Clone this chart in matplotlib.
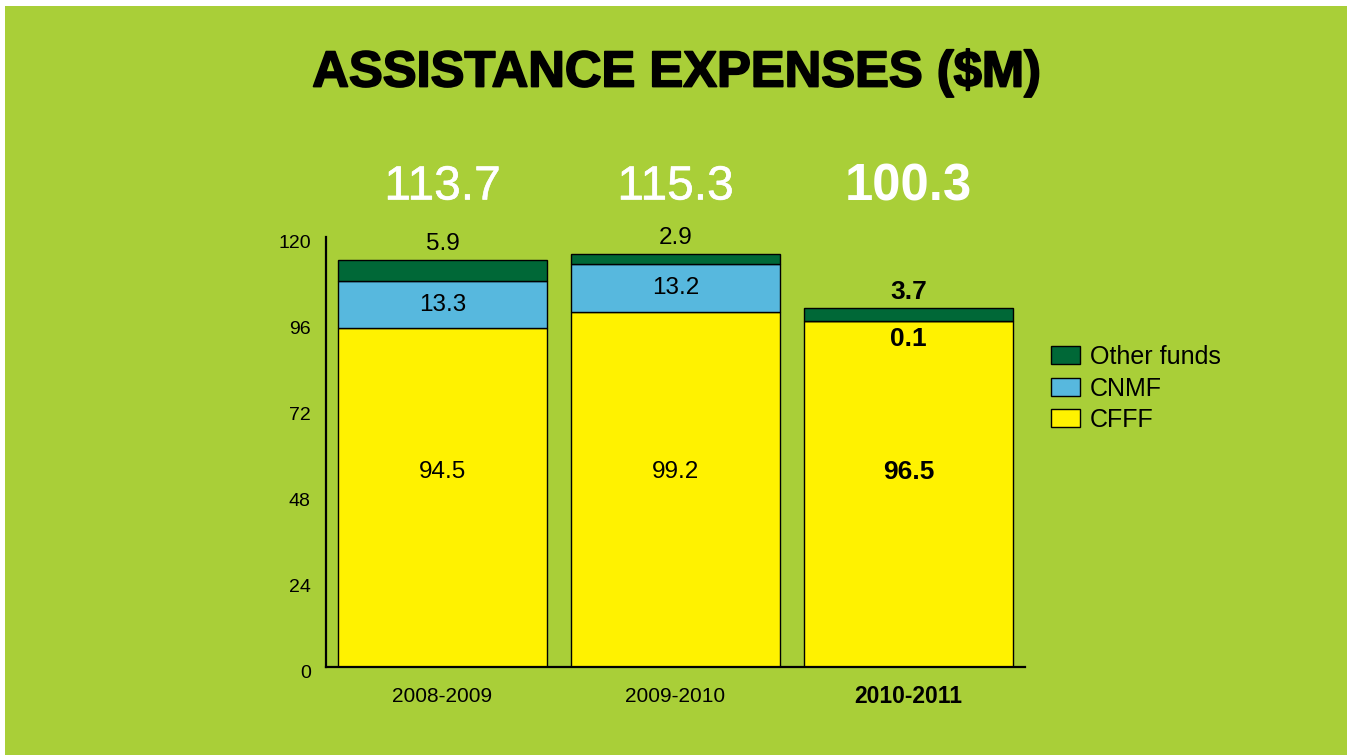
import matplotlib
matplotlib.use("Agg")
import matplotlib.pyplot as plt
from matplotlib.patches import Rectangle, Patch
from matplotlib.transforms import ScaledTranslation
import matplotlib.patheffects as pe

plt.rcParams['font.family'] = ['Liberation Sans', 'DejaVu Sans']

# Data ($M)
years = ["2008-2009", "2009-2010", "2010-2011"]
cfff = [94.5, 99.2, 96.5]
cnmf = [13.3, 13.2, 0.1]
other = [5.9, 2.9, 3.7]
totals = [113.7, 115.3, 100.3]
bold_year = [False, False, True]
y_ticks = [0, 24, 48, 72, 96, 120]

BG = "#A9CF38"
C_OTHER = "#006837"
C_CNMF = "#57B8DE"
C_CFFF = "#FFF200"

W, H = 1347, 755
fig = plt.figure(figsize=(W / 100, H / 100), dpi=100)
fig.patch.set_facecolor("white")
# green panel with a thin white margin on top and left
fig.add_artist(Rectangle((5 / W, 0), 1 - 5 / W, 1 - 6 / H, transform=fig.transFigure,
                         facecolor=BG, edgecolor="none", zorder=0))

ax = fig.add_axes([326 / W, 1 - 667 / H, 699 / W, 430 / H])
ax.set_facecolor("none")

x = list(range(len(years)))
width = 0.895
base2 = [a + b for a, b in zip(cfff, cnmf)]
ax.bar(x, cfff, width=width, color=C_CFFF, edgecolor="black", linewidth=1, zorder=2)
ax.bar(x, cnmf, width=width, bottom=cfff, color=C_CNMF, edgecolor="black", linewidth=1, zorder=2)
ax.bar(x, other, width=width, bottom=base2, color=C_OTHER, edgecolor="black", linewidth=1, zorder=2)

ax.set_xlim(-0.5, 2.5)
ax.set_ylim(0, 120)
for s in ["top", "right"]:
    ax.spines[s].set_visible(False)
ax.spines["left"].set_linewidth(1.6)
ax.spines["bottom"].set_linewidth(1.6)
ax.set_yticks(y_ticks)
ax.set_yticklabels([str(t) for t in y_ticks], fontsize=14)
ax.tick_params(axis="y", length=0, pad=11)
for t in ax.yaxis.get_major_ticks():
    t.label1.set_transform(t.label1.get_transform()
                           + ScaledTranslation(0, -5 / 100, fig.dpi_scale_trans))
ax.set_xticks(x)
ax.set_xticklabels([])
ax.tick_params(axis="x", length=0)

for i in x:
    b = bold_year[i]
    fw = "bold" if b else "normal"
    lab_fs = 19 if b else 17.5
    # category labels
    ax.annotate(years[i], (i, 0), xytext=(0, -21.5), textcoords="offset points",
                ha="center", va="center", fontsize=16.5 if b else 15, fontweight=fw,
                annotation_clip=False)
    # CFFF
    ax.text(i, 54.5, f"{cfff[i]}", ha="center", va="center", fontsize=lab_fs, fontweight=fw)
    # CNMF
    if cnmf[i] >= 1:
        ax.text(i, cfff[i] + cnmf[i] / 2, f"{cnmf[i]}", ha="center", va="center",
                fontsize=lab_fs, fontweight=fw)
    else:
        ax.annotate(f"{cnmf[i]}", (i, cfff[i]), xytext=(0, -13), textcoords="offset points",
                    ha="center", va="center", fontsize=lab_fs, fontweight=fw)
    # other funds, above the bar
    ax.annotate(f"{other[i]}", (i, totals[i]), xytext=(0, 11.5), textcoords="offset points",
                ha="center", va="center", fontsize=lab_fs, fontweight=fw, annotation_clip=False)
    # totals
    ax.annotate(f"{totals[i]}", (i, 0), xycoords=("data", "figure fraction"),
                xytext=(i, 1 - 187 / H), textcoords=("data", "figure fraction"),
                ha="center", va="center", fontsize=36.5 if b else 34.5, fontweight=fw,
                color="white", annotation_clip=False,
                path_effects=[] if b else [pe.withStroke(linewidth=0.4, foreground="white")])

fig.text(677 / W, 1 - 73 / H, "ASSISTANCE EXPENSES ($M)", ha="center", va="center",
         fontsize=36.5, fontweight="bold", color="black",
         path_effects=[pe.withStroke(linewidth=1.3, foreground="black")])

handles = [Patch(facecolor=C_OTHER, edgecolor="black", linewidth=1, label="Other funds"),
           Patch(facecolor=C_CNMF, edgecolor="black", linewidth=1, label="CNMF"),
           Patch(facecolor=C_CFFF, edgecolor="black", linewidth=1, label="CFFF")]
fig.legend(handles=handles, loc="upper left", bbox_to_anchor=(1051 / W, 1 - 345 / H),
           frameon=False, fontsize=18, handlelength=1.15, handleheight=0.75,
           handletextpad=0.4, labelspacing=0.3, borderaxespad=0, borderpad=0)

fig.savefig("out.png", dpi=100, facecolor=fig.get_facecolor())
